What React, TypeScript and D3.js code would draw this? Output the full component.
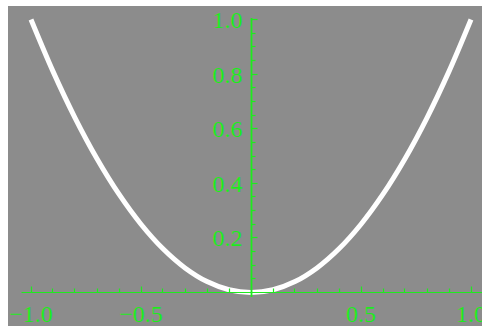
import React from "react";
import * as d3 from "d3";

const xValues = [-1, -0.9, -0.8, -0.7, -0.6, -0.5, -0.4, -0.3, -0.2, -0.1, 0, 0.1, 0.2, 0.3, 0.4, 0.5, 0.6, 0.7, 0.8, 0.9, 1];
const yValues = [1, 0.81, 0.64, 0.49, 0.36, 0.25, 0.16, 0.09, 0.04, 0.01, 0, 0.01, 0.04, 0.09, 0.16, 0.25, 0.36, 0.49, 0.64, 0.81, 1];
const xMajorTicks = [-1, -0.5, 0.5, 1];
const xTickLabels = ["\u22121.0", "\u22120.5", "0.5", "1.0"];
const xMinorTicks = [-0.9, -0.8, -0.7, -0.6, -0.4, -0.3, -0.2, -0.1, 0.1, 0.2, 0.3, 0.4, 0.6, 0.7, 0.8, 0.9];
const yMajorTicks = [0.2, 0.4, 0.6, 0.8, 1.0];
const yTickLabels = ["0.2", "0.4", "0.6", "0.8", "1.0"];
const yMinorTicks = [0.05, 0.1, 0.15, 0.25, 0.3, 0.35, 0.45, 0.5, 0.55, 0.65, 0.7, 0.75, 0.85, 0.9, 0.95];

const W = 482;
const H = 326;
const GREEN = "#1eeb1e";
const BG = "#8c8c8c";

const px = (v: number) => Math.floor(v) + 0.5;

export default function App() {
  const x = d3.scaleLinear().domain([-1, 1]).range([31, 471]);
  const y = d3.scaleLinear().domain([0, 1]).range([292.5, 19.5]);
  const pts: [number, number][] = xValues.map((v, i) => [v, yValues[i]]);
  const line = d3
    .line<[number, number]>()
    .x((d) => x(d[0]))
    .y((d) => y(d[1]))
    .curve(d3.curveCatmullRom.alpha(0.5));
  const x0 = px(x(0));
  const y0 = px(y(0));
  const font = "'Liberation Serif', 'Times New Roman', serif";
  return (
    <svg
      width={W}
      height={H}
      style={{ position: "absolute", left: 0, top: 0, display: "block" }}
    >
      <rect x={0} y={0} width={W} height={H} fill="#ffffff" />
      <rect x={8} y={6} width={W - 8} height={H - 6} fill={BG} />
      <path d={line(pts) || ""} fill="none" stroke="#ffffff" strokeWidth={5} />
      <g stroke={GREEN} strokeWidth={1.2}>
        <line x1={21.5} x2={W} y1={y0} y2={y0} />
        <line x1={x0} x2={x0} y1={18} y2={297} strokeWidth={1.8} />
        {xMajorTicks.map((t) => (
          <line key={"xM" + t} x1={px(x(t))} x2={px(x(t))} y1={y0} y2={y0 - 6} />
        ))}
        {xMinorTicks.map((t) => (
          <line key={"xm" + t} x1={px(x(t))} x2={px(x(t))} y1={y0} y2={y0 - 4} />
        ))}
        {yMajorTicks.map((t) => (
          <line key={"yM" + t} x1={x0} x2={x0 + 6} y1={px(y(t))} y2={px(y(t))} />
        ))}
        {yMinorTicks.map((t) => (
          <line key={"ym" + t} x1={x0} x2={x0 + 4} y1={px(y(t))} y2={px(y(t))} />
        ))}
      </g>
      <g fill={GREEN} fontFamily={font} fontSize={24}>
        {xMajorTicks.map((t, i) => (
          <text key={"xl" + t} x={x(t)} y={322} textAnchor="middle">
            {xTickLabels[i]}
          </text>
        ))}
        {yMajorTicks.map((t, i) => (
          <text key={"yl" + t} x={x0 - 9} y={y(t) + 8.5} textAnchor="end">
            {yTickLabels[i]}
          </text>
        ))}
      </g>
    </svg>
  );
}
